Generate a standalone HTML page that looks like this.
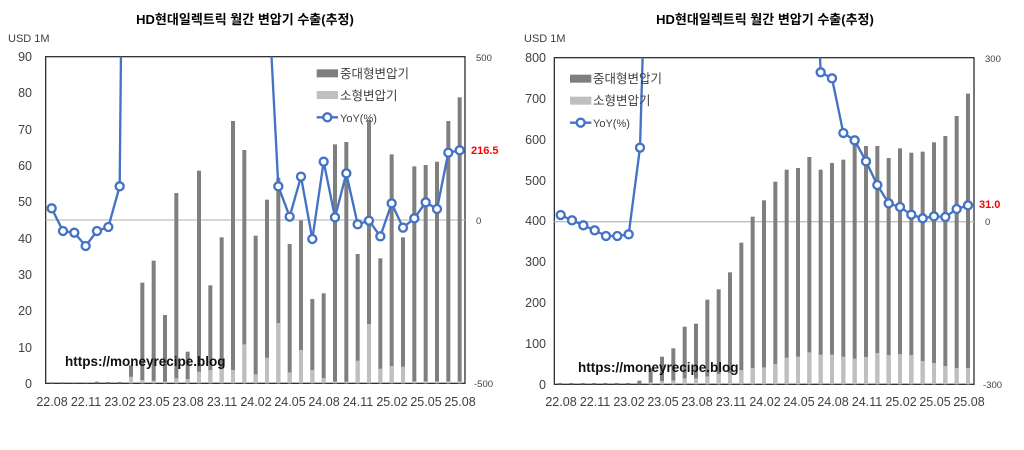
<!DOCTYPE html>
<html><head><meta charset="utf-8"><style>
body{margin:0;background:#fff;width:1024px;height:445px;overflow:hidden}
text{font-family:"Liberation Sans","Noto Sans CJK KR",sans-serif;fill:#404040}
.t{font-weight:bold;font-size:13px;fill:#000}
.y{font-size:12.5px;text-anchor:end}
.r{font-size:9.5px}
.x{font-size:12.5px;text-anchor:middle}
.w{font-weight:bold;font-size:13.5px;fill:#111}
.lg{font-size:12.5px}
</style></head><body>
<svg width="1024" height="445" xmlns="http://www.w3.org/2000/svg">
<defs>
<clipPath id="cl"><rect x="137" y="50" width="1258" height="985"/></clipPath>
<clipPath id="cr"><rect x="133" y="53" width="1259" height="985"/></clipPath>
</defs>
<!-- LEFT -->
<text class="t" x="245" y="24" text-anchor="middle">HD현대일렉트릭 월간 변압기 수출(추정)</text>
<text x="8" y="42" style="font-size:11px">USD 1M</text>
<g transform="translate(0,40) scale(0.33333)">
<rect x="137" y="50" width="1258" height="980" fill="none" stroke="#333" stroke-width="4"/>
<line x1="137" y1="540" x2="1395" y2="540" stroke="#bfbfbf" stroke-width="4"/>
<g fill="#7f7f7f">
<rect x="149" y="1027" width="12" height="3"/><rect x="183" y="1027" width="12" height="3"/><rect x="217" y="1028" width="12" height="2"/><rect x="251" y="1028" width="12" height="2"/><rect x="285" y="1025" width="12" height="5"/><rect x="319" y="1026" width="12" height="4"/><rect x="353" y="1026" width="12" height="4"/>
<rect x="387" y="976" width="12" height="54"/><rect x="421" y="728" width="12" height="302"/><rect x="455" y="662" width="12" height="368"/><rect x="489" y="825" width="12" height="205"/><rect x="523" y="459" width="12" height="571"/><rect x="557" y="935" width="12" height="95"/><rect x="591" y="392" width="12" height="638"/><rect x="625" y="736" width="12" height="294"/><rect x="659" y="592" width="12" height="438"/><rect x="693" y="243" width="12" height="787"/><rect x="727" y="330" width="12" height="700"/><rect x="761" y="587" width="12" height="443"/><rect x="795" y="479" width="12" height="551"/><rect x="829" y="413" width="12" height="617"/><rect x="863" y="612" width="12" height="418"/><rect x="897" y="541" width="12" height="489"/><rect x="931" y="777" width="12" height="253"/><rect x="965" y="760" width="12" height="270"/><rect x="999" y="313" width="12" height="717"/><rect x="1033" y="306" width="12" height="724"/><rect x="1067" y="642" width="12" height="388"/><rect x="1101" y="240" width="12" height="790"/><rect x="1135" y="655" width="12" height="375"/><rect x="1169" y="343" width="12" height="687"/><rect x="1203" y="592" width="12" height="438"/><rect x="1237" y="379" width="12" height="651"/><rect x="1271" y="375" width="12" height="655"/><rect x="1305" y="365" width="12" height="665"/><rect x="1339" y="243" width="12" height="787"/><rect x="1373" y="172" width="12" height="858"/>
</g>
<g fill="#bfbfbf">
<rect x="387" y="1010" width="12" height="20"/><rect x="421" y="1020" width="12" height="10"/><rect x="455" y="1022" width="12" height="8"/><rect x="489" y="1025" width="12" height="5"/><rect x="523" y="1015" width="12" height="15"/><rect x="557" y="1017" width="12" height="13"/><rect x="591" y="995" width="12" height="35"/><rect x="625" y="990" width="12" height="40"/><rect x="659" y="985" width="12" height="45"/><rect x="693" y="990" width="12" height="40"/><rect x="727" y="913" width="12" height="117"/><rect x="761" y="1003" width="12" height="27"/><rect x="795" y="953" width="12" height="77"/><rect x="829" y="849" width="12" height="181"/><rect x="863" y="997" width="12" height="33"/><rect x="897" y="930" width="12" height="100"/><rect x="931" y="990" width="12" height="40"/><rect x="965" y="1014" width="12" height="16"/><rect x="999" y="1025" width="12" height="5"/><rect x="1033" y="1025" width="12" height="5"/><rect x="1067" y="962" width="12" height="68"/><rect x="1101" y="852" width="12" height="178"/><rect x="1135" y="986" width="12" height="44"/><rect x="1169" y="978" width="12" height="52"/><rect x="1203" y="980" width="12" height="50"/><rect x="1237" y="1024" width="12" height="6"/><rect x="1271" y="1024" width="12" height="6"/><rect x="1305" y="1024" width="12" height="6"/><rect x="1339" y="1024" width="12" height="6"/><rect x="1373" y="1024" width="12" height="6"/>
</g>
<g clip-path="url(#cl)">
<polyline fill="none" stroke="#4472c4" stroke-width="7" points="155,505 189,573 223,578 257,618 291,573 325,561 359,439 393,-3000 801,-209 835,439 869,530 903,410 937,597 971,365 1005,532 1039,400 1073,553 1107,542 1141,589 1175,490 1209,563 1243,535 1277,487 1311,507 1345,338 1379,331"/>
</g>
<g fill="#fff" stroke="#4472c4" stroke-width="7">
<circle cx="155" cy="505" r="12"/><circle cx="189" cy="573" r="12"/><circle cx="223" cy="578" r="12"/><circle cx="257" cy="618" r="12"/><circle cx="291" cy="573" r="12"/><circle cx="325" cy="561" r="12"/><circle cx="359" cy="439" r="12"/><circle cx="835" cy="439" r="12"/><circle cx="869" cy="530" r="12"/><circle cx="903" cy="410" r="12"/><circle cx="937" cy="597" r="12"/><circle cx="971" cy="365" r="12"/><circle cx="1005" cy="532" r="12"/><circle cx="1039" cy="400" r="12"/><circle cx="1073" cy="553" r="12"/><circle cx="1107" cy="542" r="12"/><circle cx="1141" cy="589" r="12"/><circle cx="1175" cy="490" r="12"/><circle cx="1209" cy="563" r="12"/><circle cx="1243" cy="535" r="12"/><circle cx="1277" cy="487" r="12"/><circle cx="1311" cy="507" r="12"/><circle cx="1345" cy="338" r="12"/><circle cx="1379" cy="331" r="12"/>
</g>
<rect x="950" y="88" width="64" height="24" fill="#7f7f7f"/>
<rect x="950" y="153" width="64" height="24" fill="#bfbfbf"/>
<line x1="950" y1="232" x2="1014" y2="232" stroke="#4472c4" stroke-width="7"/>
<circle cx="982" cy="232" r="12" fill="#fff" stroke="#4472c4" stroke-width="7"/>
</g>
<text class="lg" x="340" y="78">중대형변압기</text>
<text class="lg" x="340" y="100">소형변압기</text>
<text class="lg" x="340" y="122" style="font-size:11px">YoY(%)</text>
<g>
<text class="y" x="32" y="61">90</text><text class="y" x="32" y="97">80</text><text class="y" x="32" y="134">70</text><text class="y" x="32" y="170">60</text><text class="y" x="32" y="206">50</text><text class="y" x="32" y="243">40</text><text class="y" x="32" y="279">30</text><text class="y" x="32" y="315">20</text><text class="y" x="32" y="352">10</text><text class="y" x="32" y="388">0</text>
</g>
<text class="r" x="476" y="61">500</text><text class="r" x="476" y="224">0</text><text class="r" x="474" y="387">-500</text>
<text x="471" y="154" style="font-size:11px;font-weight:bold;fill:#ff0000">216.5</text>
<text class="w" x="65" y="366">https://moneyrecipe.blog</text>
<g>
<text class="x" x="52" y="406">22.08</text><text class="x" x="86" y="406">22.11</text><text class="x" x="120" y="406">23.02</text><text class="x" x="154" y="406">23.05</text><text class="x" x="188" y="406">23.08</text><text class="x" x="222" y="406">23.11</text><text class="x" x="256" y="406">24.02</text><text class="x" x="290" y="406">24.05</text><text class="x" x="324" y="406">24.08</text><text class="x" x="358" y="406">24.11</text><text class="x" x="392" y="406">25.02</text><text class="x" x="426" y="406">25.05</text><text class="x" x="460" y="406">25.08</text>
</g>

<!-- RIGHT -->
<text class="t" x="765" y="24" text-anchor="middle">HD현대일렉트릭 월간 변압기 수출(추정)</text>
<text x="524" y="42" style="font-size:11px">USD 1M</text>
<g transform="translate(510,40) scale(0.33333)">
<rect x="133" y="53" width="1259" height="980" fill="none" stroke="#333" stroke-width="4"/>
<line x1="133" y1="545" x2="1392" y2="545" stroke="#bfbfbf" stroke-width="4"/>
<g fill="#7f7f7f">
<rect x="144" y="1029" width="12" height="4"/><rect x="178" y="1029" width="12" height="4"/><rect x="212" y="1029" width="12" height="4"/><rect x="246" y="1029" width="12" height="4"/><rect x="280" y="1029" width="12" height="4"/><rect x="314" y="1029" width="12" height="4"/><rect x="348" y="1029" width="12" height="4"/>
<rect x="382" y="1022" width="12" height="11"/><rect x="416" y="985" width="12" height="48"/><rect x="450" y="950" width="12" height="83"/><rect x="484" y="925" width="12" height="108"/><rect x="518" y="860" width="12" height="173"/><rect x="552" y="851" width="12" height="182"/><rect x="586" y="779" width="12" height="254"/><rect x="620" y="748" width="12" height="285"/><rect x="654" y="697" width="12" height="336"/><rect x="688" y="608" width="12" height="425"/><rect x="722" y="530" width="12" height="503"/><rect x="756" y="481" width="12" height="552"/><rect x="790" y="425" width="12" height="608"/><rect x="824" y="389" width="12" height="644"/><rect x="858" y="384" width="12" height="649"/><rect x="892" y="351" width="12" height="682"/><rect x="926" y="389" width="12" height="644"/><rect x="960" y="369" width="12" height="664"/><rect x="994" y="359" width="12" height="674"/><rect x="1028" y="305" width="12" height="728"/><rect x="1062" y="318" width="12" height="715"/><rect x="1096" y="318" width="12" height="715"/><rect x="1130" y="354" width="12" height="679"/><rect x="1164" y="325" width="12" height="708"/><rect x="1198" y="338" width="12" height="695"/><rect x="1232" y="335" width="12" height="698"/><rect x="1266" y="307" width="12" height="726"/><rect x="1300" y="288" width="12" height="745"/><rect x="1334" y="228" width="12" height="805"/><rect x="1368" y="161" width="12" height="872"/>
</g>
<g fill="#bfbfbf">
<rect x="416" y="1027" width="12" height="6"/><rect x="450" y="1023" width="12" height="10"/><rect x="484" y="1021" width="12" height="12"/><rect x="518" y="1015" width="12" height="18"/><rect x="552" y="1015" width="12" height="18"/><rect x="586" y="1009" width="12" height="24"/><rect x="620" y="1002" width="12" height="31"/><rect x="654" y="999" width="12" height="34"/><rect x="688" y="990" width="12" height="43"/><rect x="722" y="984" width="12" height="49"/><rect x="756" y="982" width="12" height="51"/><rect x="790" y="972" width="12" height="61"/><rect x="824" y="953" width="12" height="80"/><rect x="858" y="950" width="12" height="83"/><rect x="892" y="937" width="12" height="96"/><rect x="926" y="944" width="12" height="89"/><rect x="960" y="944" width="12" height="89"/><rect x="994" y="950" width="12" height="83"/><rect x="1028" y="956" width="12" height="77"/><rect x="1062" y="951" width="12" height="82"/><rect x="1096" y="939" width="12" height="94"/><rect x="1130" y="945" width="12" height="88"/><rect x="1164" y="942" width="12" height="91"/><rect x="1198" y="945" width="12" height="88"/><rect x="1232" y="963" width="12" height="70"/><rect x="1266" y="969" width="12" height="64"/><rect x="1300" y="978" width="12" height="55"/><rect x="1334" y="984" width="12" height="49"/><rect x="1368" y="984" width="12" height="49"/>
</g>
<g clip-path="url(#cr)">
<polyline fill="none" stroke="#4472c4" stroke-width="7" points="152,525 186,541 220,556 254,571 288,588 322,588 356,583 390,323 424,-838 898,-702 932,97 966,115 1000,279 1034,301 1068,364 1102,435 1136,490 1170,501 1204,524 1238,535 1272,529 1306,531 1340,507 1374,496"/>
</g>
<g fill="#fff" stroke="#4472c4" stroke-width="7">
<circle cx="152" cy="525" r="12"/><circle cx="186" cy="541" r="12"/><circle cx="220" cy="556" r="12"/><circle cx="254" cy="571" r="12"/><circle cx="288" cy="588" r="12"/><circle cx="322" cy="588" r="12"/><circle cx="356" cy="583" r="12"/><circle cx="390" cy="323" r="12"/><circle cx="932" cy="97" r="12"/><circle cx="966" cy="115" r="12"/><circle cx="1000" cy="279" r="12"/><circle cx="1034" cy="301" r="12"/><circle cx="1068" cy="364" r="12"/><circle cx="1102" cy="435" r="12"/><circle cx="1136" cy="490" r="12"/><circle cx="1170" cy="501" r="12"/><circle cx="1204" cy="524" r="12"/><circle cx="1238" cy="535" r="12"/><circle cx="1272" cy="529" r="12"/><circle cx="1306" cy="531" r="12"/><circle cx="1340" cy="507" r="12"/><circle cx="1374" cy="496" r="12"/>
</g>
<rect x="180" y="104" width="64" height="24" fill="#7f7f7f"/>
<rect x="180" y="170" width="64" height="24" fill="#bfbfbf"/>
<line x1="180" y1="248" x2="244" y2="248" stroke="#4472c4" stroke-width="7"/>
<circle cx="212" cy="248" r="12" fill="#fff" stroke="#4472c4" stroke-width="7"/>
</g>
<text class="lg" x="593" y="83">중대형변압기</text>
<text class="lg" x="593" y="105">소형변압기</text>
<text class="lg" x="593" y="127" style="font-size:11px">YoY(%)</text>
<g>
<text class="y" x="546" y="62">800</text><text class="y" x="546" y="103">700</text><text class="y" x="546" y="144">600</text><text class="y" x="546" y="185">500</text><text class="y" x="546" y="225">400</text><text class="y" x="546" y="266">300</text><text class="y" x="546" y="307">200</text><text class="y" x="546" y="348">100</text><text class="y" x="546" y="389">0</text>
</g>
<text class="r" x="985" y="62">300</text><text class="r" x="985" y="225">0</text><text class="r" x="983" y="388">-300</text>
<text x="979" y="208" style="font-size:11px;font-weight:bold;fill:#ff0000">31.0</text>
<text class="w" x="578" y="372">https://moneyrecipe.blog</text>
<g>
<text class="x" x="561" y="406">22.08</text><text class="x" x="595" y="406">22.11</text><text class="x" x="629" y="406">23.02</text><text class="x" x="663" y="406">23.05</text><text class="x" x="697" y="406">23.08</text><text class="x" x="731" y="406">23.11</text><text class="x" x="765" y="406">24.02</text><text class="x" x="799" y="406">24.05</text><text class="x" x="833" y="406">24.08</text><text class="x" x="867" y="406">24.11</text><text class="x" x="901" y="406">25.02</text><text class="x" x="935" y="406">25.05</text><text class="x" x="969" y="406">25.08</text>
</g>
</svg>
</body></html>
